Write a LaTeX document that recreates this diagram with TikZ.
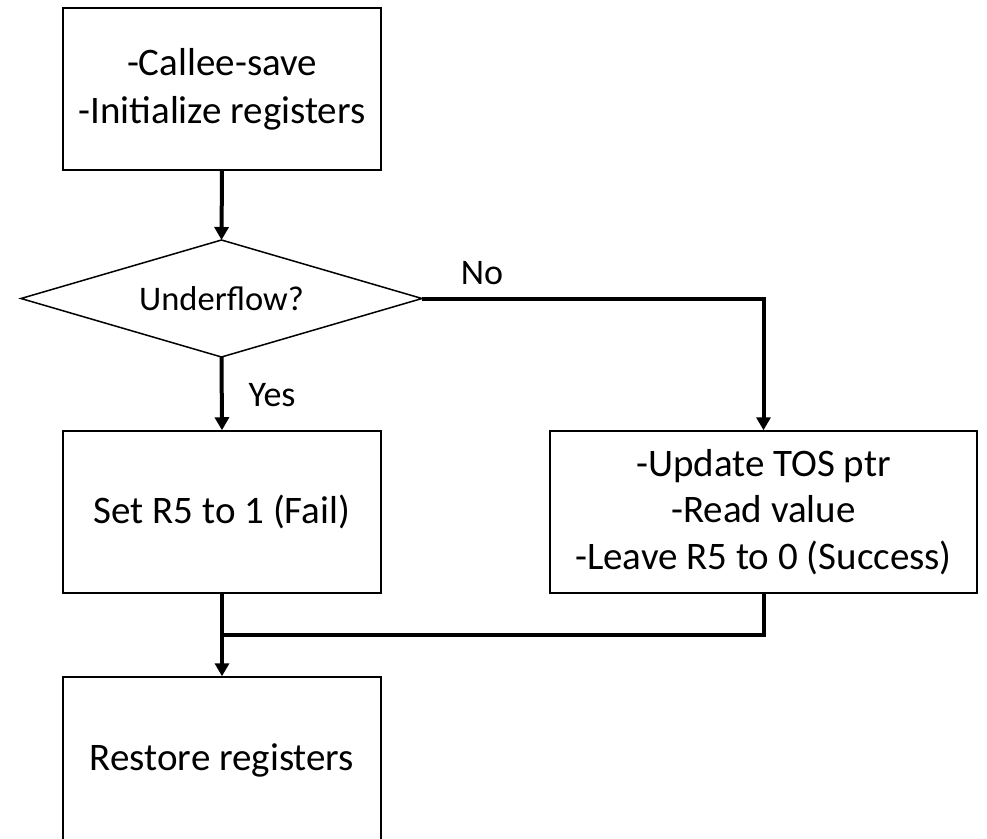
\documentclass[tikz,border=0pt]{standalone}
\usepackage{fontspec}
\setmainfont{Carlito}
\usetikzlibrary{arrows.meta}
\begin{document}
\begin{tikzpicture}[x=1pt,y=-1pt,
  box/.style={draw,line width=1.5pt,inner sep=0pt,align=center,font=\fontsize{39}{46.5}\selectfont},
  conn/.style={line width=4pt},
  arr/.style={conn,-{Triangle[length=13pt,width=14pt]}},
  lbl/.style={inner sep=0pt,font=\fontsize{36}{42}\selectfont}]
\useasboundingbox (0,0) rectangle (987,838);
\clip (0,0) rectangle (987,838);
\node[box,minimum width=318pt,minimum height=162pt,font=\fontsize{39}{48}\selectfont] (init) at (222,89) {-Callee-save\\-Initialize registers};
% decision diamond
\coordinate (ufN) at (221.5,240);
\coordinate (ufS) at (221.5,357);
\coordinate (ufW) at (21,298.5);
\coordinate (ufE) at (422,298.5);
\draw[line width=1.5pt,line join=miter] (ufN) -- (ufE) -- (ufS) -- (ufW) -- cycle;
\node[inner sep=0pt,font=\fontsize{34.5}{40}\selectfont] (uf) at (221.5,298.5) {Underflow?};
\node[box,minimum width=318pt,minimum height=162pt] (fail) at (222,512) {Set R5 to 1 (Fail)};
\node[box,minimum width=427pt,minimum height=162pt] (ok) at (763.5,512) {-Update TOS ptr\\-Read value\\-Leave R5 to 0 (Success)};
\node[box,minimum width=318pt,minimum height=166pt] (restore) at (222,760) {Restore registers};
\node[lbl] (no) at (482,273) {No};
\node[lbl] (yes) at (272,395) {Yes};
\coordinate (join) at (222,635);
\draw[arr] (init.south) -- (ufN);
\draw[arr] (ufS) -- (fail.north);
\draw[arr] (ufE) -| (ok.north);
\draw[conn] (ok.south) |- (join);
\draw[arr] (fail.south) -- (restore.north);
\end{tikzpicture}
\end{document}
